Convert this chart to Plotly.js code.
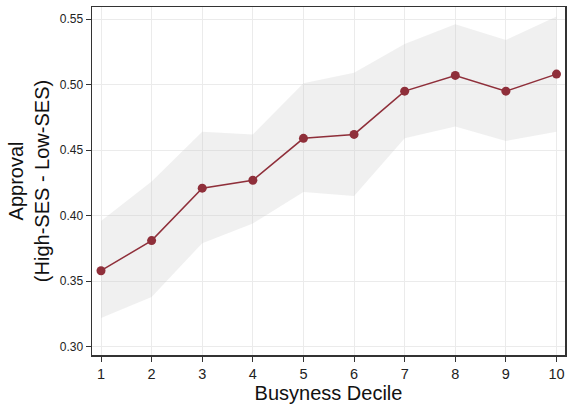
<!DOCTYPE html>
<html>
<head>
<meta charset="utf-8">
<script src="https://cdn.plot.ly/plotly-3.0.1.min.js"></script>
<style>
  html, body { margin: 0; padding: 0; background: #fff; }
  #chart { width: 569px; height: 404px; }
</style>
</head>
<body>
<div id="chart"></div>
<script>
// Busyness deciles and the estimated approval gap with its confidence band
const deciles = [1, 2, 3, 4, 5, 6, 7, 8, 9, 10];
const estimate = [0.358, 0.381, 0.421, 0.427, 0.459, 0.462, 0.495, 0.507, 0.495, 0.508];
const upperCI = [0.396, 0.426, 0.464, 0.462, 0.501, 0.509, 0.531, 0.546, 0.534, 0.552];
const lowerCI = [0.322, 0.338, 0.379, 0.394, 0.418, 0.415, 0.459, 0.468, 0.457, 0.464];
const yTicks = [0.30, 0.35, 0.40, 0.45, 0.50, 0.55];

const markColor = '#8f2f3a';

const traces = [
  {
    x: deciles, y: upperCI, type: 'scatter', mode: 'lines',
    line: { width: 0, color: 'rgba(0,0,0,0)' }, hoverinfo: 'skip', showlegend: false
  },
  {
    x: deciles, y: lowerCI, type: 'scatter', mode: 'lines', fill: 'tonexty',
    fillcolor: 'rgba(200,200,200,0.27)',
    line: { width: 0, color: 'rgba(0,0,0,0)' }, hoverinfo: 'skip', showlegend: false
  },
  {
    x: deciles, y: estimate, type: 'scatter', mode: 'lines+markers',
    line: { color: markColor, width: 1.5 },
    marker: { color: markColor, size: 9 },
    showlegend: false
  }
];

const layout = {
  width: 569, height: 404,
  margin: { l: 92, r: 4, t: 7, b: 49 },
  paper_bgcolor: '#ffffff', plot_bgcolor: '#ffffff',
  font: { family: 'Liberation Sans, Arial, sans-serif', color: '#222' },
  xaxis: {
    range: [0.822, 10.168],
    tickvals: deciles, ticktext: deciles.map(String),
    ticks: 'outside', ticklen: 5, tickcolor: '#333', tickwidth: 1,
    tickfont: { size: 14.5, color: '#222' },
    showgrid: true, gridcolor: '#ebebeb', gridwidth: 1,
    zeroline: false, showline: true, linecolor: '#333', linewidth: 1.5, mirror: true,
    title: { text: 'Busyness Decile', font: { size: 20, color: '#111' }, standoff: 2 }
  },
  yaxis: {
    range: [0.2937, 0.5592],
    tickvals: yTicks, ticktext: yTicks.map(v => v.toFixed(2)),
    ticks: 'outside', ticklen: 5, tickcolor: '#333', tickwidth: 1,
    tickfont: { size: 12, color: '#222' },
    showgrid: true, gridcolor: '#ebebeb', gridwidth: 1,
    zeroline: false, showline: true, linecolor: '#333', linewidth: 1.5, mirror: true,
    title: { text: 'Approval<br>(High-SES - Low-SES)', font: { size: 20, color: '#111' }, standoff: 4 }
  }
};

Plotly.newPlot('chart', traces, layout, { displayModeBar: false, staticPlot: true });
</script>
</body>
</html>
